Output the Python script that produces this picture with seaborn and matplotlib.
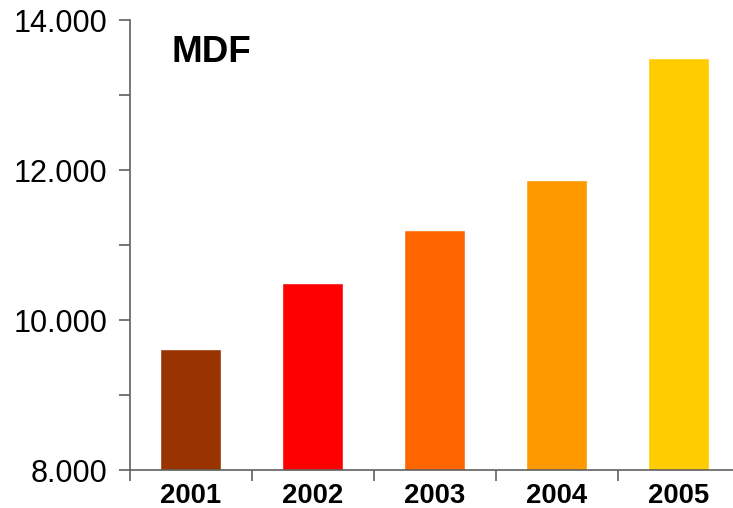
import matplotlib
matplotlib.use("Agg")
import matplotlib.pyplot as plt
from matplotlib.ticker import FixedLocator, FuncFormatter
import seaborn as sns
import pandas as pd

years = ["2001", "2002", "2003", "2004", "2005"]
values = [9620, 10500, 11200, 11870, 13500]
colors = ["#993300", "#FF0000", "#FF6600", "#FF9900", "#FFCC00"]

sns.set_theme(style="white")
plt.rcParams["font.family"] = ["Liberation Sans", "DejaVu Sans"]

df = pd.DataFrame({"year": years, "value": values})

W, H = 733, 508
fig = plt.figure(figsize=(W / 100, H / 100), dpi=100)
ax = fig.add_axes([130 / W, 38 / H, (739.5 - 130) / W, (470 - 20) / H])

sns.barplot(data=df, x="year", y="value", hue="year", palette=colors,
            width=0.5, legend=False, saturation=1, ax=ax)

ax.set_ylim(8000, 14000)
ax.set_xlim(-0.5, len(years) - 0.5)
ax.set_xlabel("")
ax.set_ylabel("")

spine_col = "#606060"
for s in ("top", "right"):
    ax.spines[s].set_visible(False)
for s in ("left", "bottom"):
    ax.spines[s].set_color(spine_col)
    ax.spines[s].set_linewidth(1.2)

# y axis: major labelled ticks every 2000, unlabelled minor ticks in between
ax.yaxis.set_major_locator(FixedLocator([8000, 10000, 12000, 14000]))
ax.yaxis.set_minor_locator(FixedLocator([9000, 11000, 13000]))
ax.yaxis.set_major_formatter(FuncFormatter(lambda v, p: f"{int(v):,}".replace(",", ".")))
ax.tick_params(axis="y", which="both", direction="out", length=8, width=1.2,
               color=spine_col, left=True, labelsize=22, pad=8.5, labelcolor="black")

# x axis: labels at bar centres, tick marks at category boundaries
ax.xaxis.set_minor_locator(FixedLocator([i - 0.5 for i in range(len(years) + 1)]))
ax.tick_params(axis="x", which="major", length=0, labelsize=19.8, pad=9.5, labelcolor="black")
ax.tick_params(axis="x", which="minor", direction="out", length=8, width=1.2,
               color=spine_col, bottom=True)
for lab in ax.get_xticklabels():
    lab.set_fontweight("bold")

fig.text(172 / W, 1 - 62 / H, "MDF", fontsize=26.5, fontweight="bold",
         ha="left", va="baseline", color="black")

fig.savefig("out.png", dpi=100)
